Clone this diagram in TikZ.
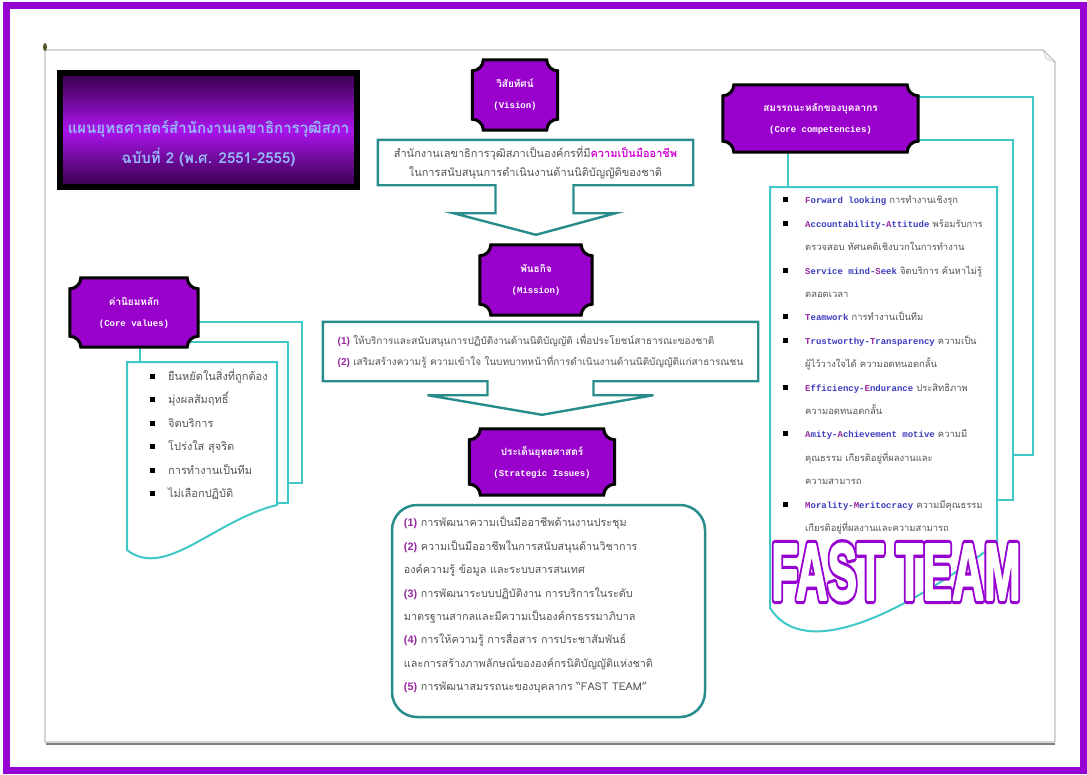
\documentclass[tikz,border=0pt]{standalone}
\usepackage{fontspec}
\setmainfont{Loma}[Script=Thai]
\setsansfont{Liberation Sans}
\newfontfamily\engfont{Liberation Mono}
\usetikzlibrary{positioning,calc}

\definecolor{framepurple}{RGB}{150,0,210}
\definecolor{badgepurple}{RGB}{153,0,204}
\definecolor{titledark}{RGB}{55,0,75}
\definecolor{titlebright}{RGB}{170,20,235}
\definecolor{titleblue}{RGB}{150,185,250}
\definecolor{tealline}{RGB}{40,140,140}
\definecolor{cyanline}{RGB}{64,200,200}
\definecolor{bodygray}{RGB}{85,85,85}
\definecolor{fastpurple}{RGB}{150,40,160}
\definecolor{fastblue}{RGB}{60,60,190}
\definecolor{keymagenta}{RGB}{210,0,210}
\definecolor{pagegray}{RGB}{190,190,190}

% puce carree
\newcommand{\bul}[1][18pt]{\makebox[#1][l]{\color{black}\raisebox{1.5pt}{\rule{5pt}{5pt}}}}
% mot cle anglais (initiale en violet)
\newcommand{\kw}[2]{{\engfont\bfseries\fontsize{9}{9}\selectfont\color{fastpurple}#1\color{fastblue}#2}}
\newcommand{\eng}[1]{{\engfont\bfseries\fontsize{9}{9}\selectfont #1}}
\newcommand{\nm}[1]{{\sffamily\bfseries\color{fastpurple}(#1)}}
% lettres creuses : contour violet epais, interieur blanc
\newcommand{\fastteam}{%
\rlap{\special{pdf:literal direct 2 Tr 1 j 9 w 0.59 0 0.82 RG 0.59 0 0.82 rg}\scalebox{0.55}[1]{FAST TEAM}}%
\special{pdf:literal direct 2 Tr 1 j 2.5 w 1 1 1 RG 1 1 1 rg}\scalebox{0.55}[1]{FAST TEAM}%
\special{pdf:literal direct 0 Tr 0 j 0.4 w}}

% cadre a coins creux autour d'un noeud
\newcommand{\plr}{11}
\newcommand{\plk}{6}
\newcommand{\plaque}[1]{%
\filldraw[plaque] ($(#1.north west)+(\plr,0)$) -- ($(#1.north east)+(-\plr,0)$)
 .. controls ($(#1.north east)+(-\plr,\plk)$) and ($(#1.north east)+(-\plk,\plr)$) .. ($(#1.north east)+(0,\plr)$)
 -- ($(#1.south east)+(0,-\plr)$)
 .. controls ($(#1.south east)+(-\plk,-\plr)$) and ($(#1.south east)+(-\plr,-\plk)$) .. ($(#1.south east)+(-\plr,0)$)
 -- ($(#1.south west)+(\plr,0)$)
 .. controls ($(#1.south west)+(\plr,-\plk)$) and ($(#1.south west)+(\plk,-\plr)$) .. ($(#1.south west)+(0,-\plr)$)
 -- ($(#1.north west)+(0,\plr)$)
 .. controls ($(#1.north west)+(\plk,\plr)$) and ($(#1.north west)+(\plr,\plk)$) .. cycle;}

\tikzset{
  plaque/.style={fill=badgepurple, draw=black, line width=3},
  badge/.style={inner sep=0},
  badgetext/.style={text=white, align=center, font=\bfseries\fontsize{10}{21}\selectfont},
  titlebox/.style={draw=black, line width=6, minimum width=297, minimum height=114,
    top color=titledark, bottom color=titledark, middle color=titlebright},
  titletext/.style={text=titleblue, align=center, font=\bfseries\fontsize{15}{30}\selectfont},
  boxtext/.style={inner sep=0, text=bodygray, font=\fontsize{11}{19}\selectfont},
  listtext/.style={inner sep=0, align=left, text=bodygray, font=\fontsize{11}{23.4}\selectfont},
  callout/.style={draw=tealline, line width=2.4, line join=miter},
  docline/.style={draw=cyanline, line width=2},
  fastword/.style={inner sep=0, text=white, font=\sffamily\bfseries\fontsize{80}{80}\selectfont}
}

\begin{document}
\begin{tikzpicture}[x=1pt,y=-1pt]
\useasboundingbox (0,0) rectangle (1087,774);

%Cadre et page
\draw[framepurple, line width=7] (6,5.5) rectangle (1083.5,770.5);
\draw[pagegray, line width=1.2, fill=white] (45,50) -- (1043,50) -- (1055,62) -- (1055,742) -- (45,742) -- cycle;
\draw[pagegray, fill=gray!12] (1043,50) -- (1046,59) -- (1055,62) -- cycle;
\draw[gray, line width=2] (46,743.5) -- (1055,743.5);
\fill[olive!50!black] (45,47) ellipse (2 and 4);

%Titre
\node[titlebox] (title) at (208.5,130) {};
\node[titletext] (titlename) at (208.5,143) {แผนยุทธศาสตร์สำนักงานเลขาธิการวุฒิสภา\\ฉบับที่ 2 (พ.ศ. 2551-2555)};

%Valeurs
\draw[docline] (190,322) -- (302,322) -- (302,483) -- (288,483);
\draw[docline] (190,342) -- (288,342) -- (288,503) -- (277,503);
\draw[docline] (140,340) -- (140,362);
\draw[docline, fill=white] (127,362) -- (277,362) -- (277,505) .. controls (215,520) and (165,580) .. (127,550) -- cycle;
\node[listtext, anchor=north west] (cvlist) at (150,369) {%
\bul ยืนหยัดในสิ่งที่ถูกต้อง\\
\bul มุ่งผลสัมฤทธิ์\\
\bul จิตบริการ\\
\bul โปร่งใส สุจริต\\
\bul การทำงานเป็นทีม\\
\bul ไม่เลือกปฏิบัติ};

%Competences
\draw[docline] (900,97) -- (1033,97) -- (1033,455) -- (1013,455);
\draw[docline] (900,140) -- (1013,140) -- (1013,500) -- (997,500);
\draw[docline] (788,145) -- (788,187);
\draw[docline, fill=white] (770,187) -- (997,187) -- (997,543) .. controls (880,630) and (800,655) .. (770,608) -- cycle;
\node[listtext, anchor=north west, font=\fontsize{9.4}{23.4}\selectfont] (cclist) at (783,196) {%
\bul[22pt]\kw{F}{orward looking} การทำงานเชิงรุก\\
\bul[22pt]\kw{A}{ccountability-}\kw{A}{ttitude} พร้อมรับการ\\
\hspace*{22pt}ตรวจสอบ ทัศนคติเชิงบวกในการทำงาน\\
\bul[22pt]\kw{S}{ervice mind-}\kw{S}{eek} จิตบริการ ค้นหาไม่รู้\\
\hspace*{22pt}ตลอดเวลา\\
\bul[22pt]\kw{T}{eamwork} การทำงานเป็นทีม\\
\bul[22pt]\kw{T}{rustworthy-}\kw{T}{ransparency} ความเป็น\\
\hspace*{22pt}ผู้ไว้วางใจได้ ความอดทนอดกลั้น\\
\bul[22pt]\kw{E}{fficiency-}\kw{E}{ndurance} ประสิทธิภาพ\\
\hspace*{22pt}ความอดทนอดกลั้น\\
\bul[22pt]\kw{A}{mity-}\kw{A}{chievement motive} ความมี\\
\hspace*{22pt}คุณธรรม เกียรติอยู่ที่ผลงานและ\\
\hspace*{22pt}ความสามารถ\\
\bul[22pt]\kw{M}{orality-}\kw{M}{eritocracy} ความมีคุณธรรม\\
\hspace*{22pt}เกียรติอยู่ที่ผลงานและความสามารถ};

%FAST TEAM
\node[fastword] (fast) at (896,572) {\fastteam};

%Etiquettes
\node[badge, minimum width=128, minimum height=69] (cvbadge) at (134,312.5) {};
\plaque{cvbadge}
\node[badgetext] at (cvbadge) {ค่านิยมหลัก\\\eng{(Core values)}};

\node[badge, minimum width=195, minimum height=67] (ccbadge) at (820.5,118.5) {};
\plaque{ccbadge}
\node[badgetext] at (ccbadge) {สมรรถนะหลักของบุคลากร\\\eng{(Core competencies)}};

\node[badge, minimum width=85, minimum height=70] (visbadge) at (515,95) {};
\plaque{visbadge}
\node[badgetext] at (visbadge) {วิสัยทัศน์\\\eng{(Vision)}};

\node[badge, minimum width=112, minimum height=70] (misbadge) at (536,280) {};
\plaque{misbadge}
\node[badgetext] at (misbadge) {พันธกิจ\\\eng{(Mission)}};

\node[badge, minimum width=145, minimum height=66] (stratbadge) at (542,462) {};
\plaque{stratbadge}
\node[badgetext] at (stratbadge) {ประเด็นยุทธศาสตร์\\\eng{(Strategic Issues)}};

%Vision
\node[boxtext, align=center, minimum width=315, minimum height=45] (vistext) at (535.5,162.5) {สำนักงานเลขาธิการวุฒิสภาเป็นองค์กรที่มี{\bfseries\color{keymagenta}ความเป็นมืออาชีพ}\\ในการสนับสนุนการดำเนินงานด้านนิติบัญญัติของชาติ};
\draw[callout] (vistext.north west) -- (vistext.north east) -- (vistext.south east)
  -- ($(vistext.south)+(38,0)$) -- ++(0,28) -- ++(42,0) -- ($(misbadge.north)+(0,-10)$)
  -- ($(vistext.south)+(-82,28)$) -- ++(42,0) -- ++(0,-28) -- (vistext.south west) -- cycle;

%Mission
\node[boxtext, align=left, minimum width=435, minimum height=59, font=\fontsize{10}{21}\selectfont] (mistext) at (540.5,351.5) {\nm{1} ให้บริการและสนับสนุนการปฏิบัติงานด้านนิติบัญญัติ เพื่อประโยชน์สาธารณะของชาติ\\\nm{2} เสริมสร้างความรู้ ความเข้าใจ ในบทบาทหน้าที่การดำเนินงานด้านนิติบัญญัติแก่สาธารณชน};
\draw[callout] (mistext.north west) -- (mistext.north east) -- (mistext.south east)
  -- ($(mistext.south)+(53,0)$) -- ++(0,14) -- ++(60,0) -- ($(stratbadge.north)+(0,-14)$)
  -- ($(mistext.south)+(-113,14)$) -- ++(60,0) -- ++(0,-14) -- (mistext.south west) -- cycle;

%Strategie
\node[draw=tealline, line width=2.5, rounded corners=25, minimum width=313, minimum height=212] (stratbox) at (548.5,611) {};
\node[listtext, anchor=north west, font=\fontsize{10.8}{23.4}\selectfont] (strattext) at ($(stratbox.north west)+(13,13)$) {%
\nm{1} การพัฒนาความเป็นมืออาชีพด้านงานประชุม\\
\nm{2} ความเป็นมืออาชีพในการสนับสนุนด้านวิชาการ\\
องค์ความรู้ ข้อมูล และระบบสารสนเทศ\\
\nm{3} การพัฒนาระบบปฏิบัติงาน การบริการในระดับ\\
มาตรฐานสากลและมีความเป็นองค์กรธรรมาภิบาล\\
\nm{4} การให้ความรู้ การสื่อสาร การประชาสัมพันธ์\\
และการสร้างภาพลักษณ์ขององค์กรนิติบัญญัติแห่งชาติ\\
\nm{5} การพัฒนาสมรรถนะของบุคลากร “FAST TEAM”};

\end{tikzpicture}
\end{document}
